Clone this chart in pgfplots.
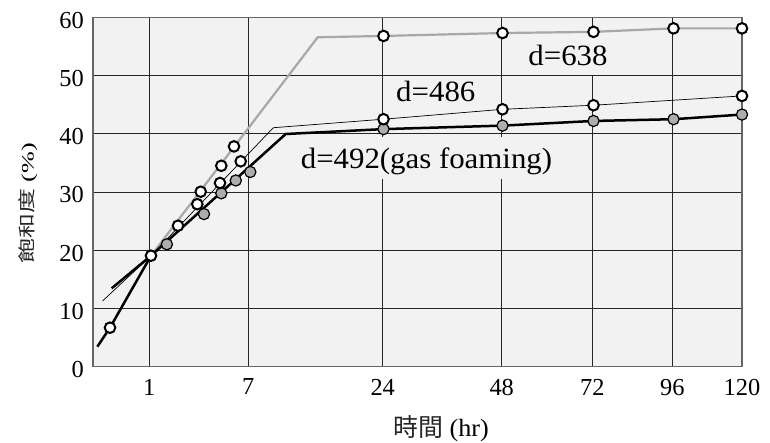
\documentclass[border=0pt]{standalone}
\usepackage{fontspec}
\setmainfont{Liberation Serif}[FakeStretch=1.05]
\newfontfamily\plain{Liberation Serif}
\newfontfamily\cjk{Noto Sans CJK TC}
\usepackage{graphicx}
\usepackage{pgfplots}
\pgfplotsset{compat=1.18}
\definecolor{bg}{HTML}{F2F2F2}
\definecolor{lgray}{HTML}{A8A8A8}
\definecolor{mgray}{HTML}{ADADAD}
\begin{document}
\begin{tikzpicture}
\path[use as bounding box] (0,0) rectangle (770bp,443bp);
\begin{axis}[
  at={(93bp,76.3bp)}, anchor=south west,
  scale only axis, width=649bp, height=349.4bp,
  xmin=93, xmax=742, ymin=0, ymax=60,
  axis background/.style={fill=bg},
  axis line style={black!60, line width=1.2bp},
  xtick={149.3,248.3,382.7,501.7,592.3,672.3,742},
  xticklabels={1,7,24,48,72,96,120},
  ytick={0,10,20,30,40,50,60},
  major tick length=0pt,
  xmajorgrids, ymajorgrids,
  grid style={black!85, line width=0.9bp},
  tick label style={font=\plain\fontsize{24.5}{24.5}\selectfont, inner sep=0pt},
  xticklabel style={anchor=north, yshift=-12bp},
  yticklabel style={anchor=east, xshift=-9bp, yshift=-3bp},
  /pgf/number format/assume math mode=true,
  clip=false,
]
% labels
\node[font=\fontsize{29.5}{29.5}\selectfont, fill=bg, inner xsep=2.5bp, inner ysep=0pt, text height=29bp, text depth=9bp, anchor=base] at (axis cs:568,51.64) {d=638};
\node[font=\fontsize{29.5}{29.5}\selectfont, fill=bg, inner sep=1bp, anchor=base] at (axis cs:435.8,45.51) {d=486};
\node[font=\fontsize{29.5}{29.5}\selectfont, fill=bg, inner xsep=2bp, inner ysep=0pt, text height=31.5bp, text depth=10bp, anchor=base] at (axis cs:426.5,33.98) {d=492(gas foaming)};
% lines
\addplot[black, line width=2.5bp] coordinates {(97.3,3.43) (110,6.70) (151,19.06)};
\addplot[lgray, line width=2.2bp] coordinates {(151,19.06) (317.7,56.57) (383.5,56.8) (502.5,57.3) (593.5,57.5) (673.5,58.1) (742,58.1)};
\addplot[black, line width=0.7bp] coordinates {(102.5,11.28) (151,19.06) (273.3,41.04) (383.5,42.5) (502.5,44.2) (593.5,44.9) (742,46.5)};
\addplot[black, line width=2.5bp] coordinates {(111.7,13.46) (151,19.06) (285.7,39.96) (383.5,40.8) (502.5,41.4) (593.5,42.2) (673.5,42.5) (742,43.3)};
% gray markers
\addplot[only marks, mark=*, mark size=5.6bp, mark options={fill=mgray, draw=black, line width=1.2bp}] coordinates {
(166.9,21.02) (204,26.21) (221.3,29.78) (235.8,31.98) (250.3,33.44)
(383.5,40.8) (502.5,41.4) (593.5,42.2) (673.5,42.5) (742,43.3)};
% open markers
\addplot[only marks, mark=*, mark size=5.3bp, mark options={fill=white, draw=black, line width=2bp}] coordinates {
(110,6.70) (151,19.06) (178,24.21) (197.3,27.91) (200.7,30.05) (220,31.55) (221.3,34.50) (234,37.83) (240.7,35.27)
(383.5,56.8) (502.5,57.3) (593.5,57.5) (673.5,58.1) (742,58.1)
(383.5,42.5) (502.5,44.2) (593.5,44.9) (742,46.5)};
% axis titles
\node[font=\fontsize{25}{25}\selectfont, anchor=center] at (axis cs:441,-10.6) {{\cjk\color{black!85}時間} (hr)};
\node[rotate=90, anchor=center] at (axis cs:28,28.1) {\scalebox{1}[0.7]{\fontsize{25}{25}\selectfont{\cjk\color{black!85}飽和度} (\%)}};
\end{axis}
\end{tikzpicture}
\end{document}
